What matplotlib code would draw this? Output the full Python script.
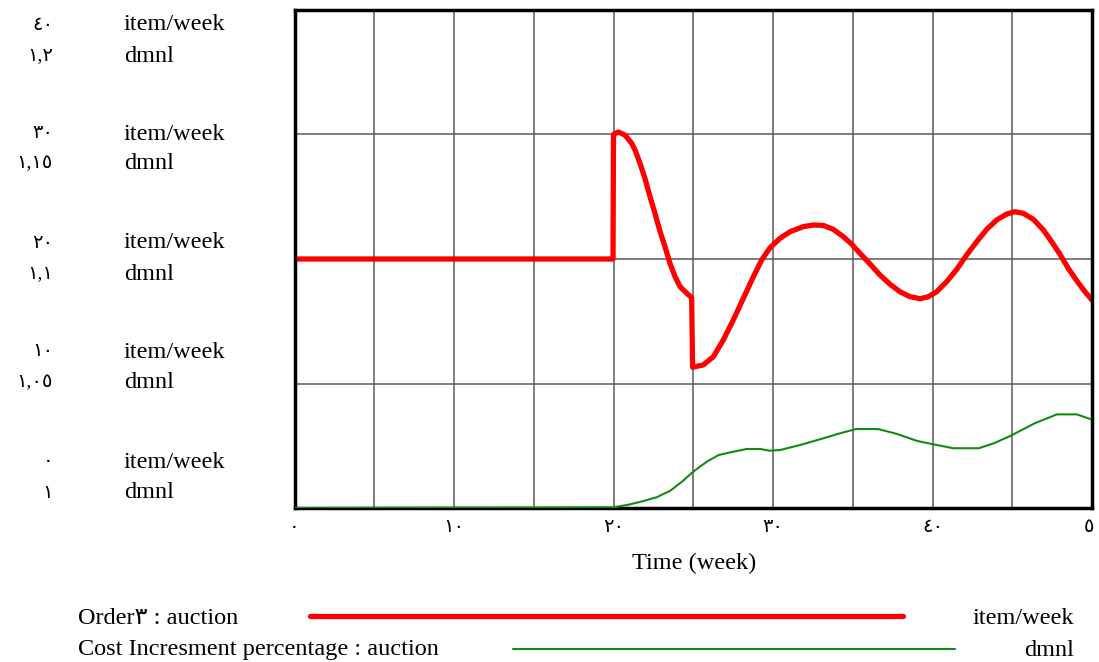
import matplotlib
matplotlib.use("Agg")
import matplotlib.pyplot as plt

# ---------------- data ----------------
order_time = [0, 19.97, 20.0, 20.3, 20.72, 21.14, 21.35, 21.66, 21.97, 22.29, 22.6,
              22.92, 23.23, 23.54, 23.86, 24.17, 24.59, 24.9, 24.96, 25.11, 25.63,
              26.26, 26.88, 27.51, 28.14, 28.77, 29.29, 29.81, 30.44, 31.07, 31.9,
              32.53, 33.15, 33.78, 34.41, 34.93, 35.45, 36.08, 36.71, 37.34, 37.96,
              38.59, 39.22, 39.74, 40.26, 40.89, 41.52, 42.14, 42.77, 43.4, 44.02,
              44.65, 45.17, 45.69, 46.32, 46.95, 47.47, 47.99, 48.51, 49.04, 49.56, 50.0]
order_vals = [20, 20, 30.0, 30.2, 29.96, 29.29, 28.76, 27.69, 26.48, 25.0, 23.67,
              22.2, 20.99, 19.65, 18.58, 17.78, 17.25, 16.9, 11.3, 11.35, 11.49,
              12.15, 13.49, 15.1, 16.84, 18.58, 19.92, 20.9, 21.66, 22.19, 22.6,
              22.73, 22.7, 22.38, 21.79, 21.2, 20.46, 19.6, 18.71, 17.97, 17.37,
              16.97, 16.81, 16.97, 17.37, 18.18, 19.17, 20.32, 21.39, 22.38, 23.13,
              23.61, 23.8, 23.67, 23.19, 22.33, 21.39, 20.38, 19.25, 18.26, 17.37, 16.71]

cost_time = [0, 20.0, 20.85, 21.7, 22.7, 23.55, 24.3, 25.0, 25.85, 26.6, 27.5, 28.35,
             29.2, 29.8, 30.45, 31.7, 32.95, 34.2, 35.2, 36.6, 37.8, 39.0, 39.95,
             41.3, 42.9, 43.85, 44.9, 46.4, 47.8, 49.05, 49.9]
cost_vals = [1.0, 1.0003, 1.0012, 1.0025, 1.0043, 1.0069, 1.0106, 1.0146, 1.0186,
             1.0213, 1.0226, 1.0237, 1.0237, 1.023, 1.0233, 1.0253, 1.0276, 1.030,
             1.0317, 1.0317, 1.0297, 1.027, 1.0257, 1.024, 1.024, 1.026, 1.029,
             1.034, 1.0376, 1.0376, 1.0357]

x_ticks = [0, 10, 20, 30, 40, 50]
x_tick_labels = ["٠", "١٠", "٢٠", "٣٠", "٤٠", "٥"]
order_tick_labels = ["٤٠", "٣٠", "٢٠", "١٠", "٠"]
cost_tick_labels = ["١,٢", "١,١٥", "١,١", "١,٠٥", "١"]

series_names = ["Order٣ : auction", "Cost Incresment percentage : auction"]
series_units = ["item/week", "dmnl"]

# ---------------- figure ----------------
W, H = 1099, 662
fig = plt.figure(figsize=(W / 100, H / 100), dpi=100)
FAM = ["Liberation Serif", "DejaVu Sans"]
FS = 17.5
DFS = 14

def fx(px):
    return px / W

def fy(py):
    return 1 - py / H

L, R, T, B = 294.5, 1092, 10, 508
ax = fig.add_axes([fx(L), fy(B), fx(R) - fx(L), fy(T) - fy(B)])
ax.set_xlim(0, 50)
ax.set_ylim(0, 40)
ax.set_xticks([0, 5, 10, 15, 20, 25, 30, 35, 40, 45, 50])
ax.set_yticks([0, 10, 20, 30, 40])
ax.grid(True, color="#5a5a5a", linewidth=1.1)
ax.tick_params(length=0, labelbottom=False, labelleft=False)
for s in ax.spines.values():
    s.set_linewidth(2.5)
    s.set_color("black")
    s.set_zorder(5)

ax2 = ax.twinx()
ax2.set_ylim(1.0, 1.2)
ax2.set_yticks([])
for s in ax2.spines.values():
    s.set_visible(False)

ax.plot(order_time, order_vals, color="#ff0000", linewidth=3.8, zorder=4,
        solid_joinstyle="round", solid_capstyle="round")
ax2.plot(cost_time, cost_vals, color="#138a13", linewidth=1.5, zorder=4)

# x tick labels
for v, lab in zip(x_ticks, x_tick_labels):
    px = L + (R - L) * v / 50
    if v == 50:
        px -= 3
    fig.text(fx(px), fy(527), lab, ha="center", va="center", fontsize=DFS, family=FAM)

fig.text(fx(694), fy(563), "Time (week)", ha="center", va="center", fontsize=FS, family=FAM)

# y labels (Vensim-style stacked)
unit_rows = [25, 134, 243, 352, 462]
dmnl_rows = [56, 164, 274, 383, 493]
for i in range(5):
    fig.text(fx(53), fy(unit_rows[i]), order_tick_labels[i], ha="right", va="center",
             fontsize=DFS, family=FAM)
    fig.text(fx(124), fy(unit_rows[i]), series_units[0], ha="left", va="center",
             fontsize=FS, family=FAM)
    fig.text(fx(53), fy(dmnl_rows[i]), cost_tick_labels[i], ha="right", va="center",
             fontsize=DFS, family=FAM)
    fig.text(fx(124), fy(dmnl_rows[i]), series_units[1], ha="left", va="center",
             fontsize=FS, family=FAM)

# legend
leg_y = [619, 650]
line_y = [616, 649]
leg_x = [(310, 903), (513, 955)]
leg_col = ["#ff0000", "#138a13"]
leg_lw = [3.8, 1.5]
for i in range(2):
    fig.text(fx(78), fy(leg_y[i]), series_names[i], ha="left", va="center",
             fontsize=FS, family=FAM)
    fig.add_artist(plt.Line2D([fx(leg_x[i][0]), fx(leg_x[i][1])],
                              [fy(line_y[i]), fy(line_y[i])],
                              transform=fig.transFigure, color=leg_col[i],
                              linewidth=leg_lw[i], solid_capstyle="round"))
    fig.text(fx(1074), fy(leg_y[i]), series_units[i], ha="right", va="center",
             fontsize=FS, family=FAM)

fig.savefig("out.png", dpi=100)
